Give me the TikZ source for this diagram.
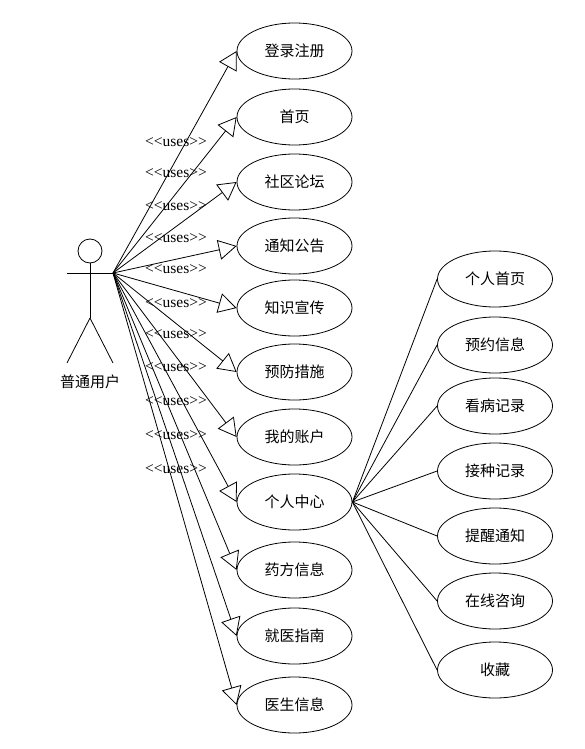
\documentclass[tikz,border=0pt]{standalone}
\usepackage{fontspec}
\setmainfont{Liberation Serif}
\newfontfamily\cjk{Noto Sans CJK SC}
\usetikzlibrary{arrows.meta, shapes.geometric}
\tikzset{
  usecase/.style={
    ellipse,
    draw=black,
    line width=0.8pt,
    minimum width=115pt,
    minimum height=56pt,
    inner sep=0pt,
    font=\cjk\fontsize{15}{18}\selectfont
  },
  actorline/.style={draw=black, line width=0.8pt},
  actorlabel/.style={font=\cjk\fontsize{15}{18}\selectfont},
  stereo/.style={font=\fontsize{15.5}{17}\selectfont, inner sep=0pt},
  uses/.style={-{Triangle[open, length=18pt, width=20pt]}, line width=0.8pt, draw=black},
  link/.style={line width=0.8pt, draw=black}
}
\begin{document}
\begin{tikzpicture}[x=1pt, y=-1pt]
\useasboundingbox (0,0) rectangle (584,749);

% Actor.
\draw[actorline] (90,251) circle[radius=12pt];
\draw[actorline] (90,263) -- (90,318);
\draw[actorline] (67,273) -- (113,273);
\draw[actorline] (90,318) -- (67,363);
\draw[actorline] (90,318) -- (113,363);
\coordinate (user) at (113,273);
\node[actorlabel] (userlabel) at (90,382) {普通用户};

% Use cases of the user.
\foreach \name/\txt/\y in {login/登录注册/51, home/首页/117, forum/社区论坛/182,
    notice/通知公告/246, knowledge/知识宣传/308, prevent/预防措施/372,
    account/我的账户/437, center/个人中心/502, recipe/药方信息/570,
    guide/就医指南/636, doctor/医生信息/705} {
  \node[usecase] (\name) at (294.5,\y) {\txt};
}

% Personal center sub cases.
\foreach \name/\txt/\y in {myhome/个人首页/279, booking/预约信息/345, visits/看病记录/406,
    vaccine/接种记录/471, remind/提醒通知/536, consult/在线咨询/601, favorite/收藏/670} {
  \node[usecase] (\name) at (495,\y) {\txt};
}

% Uses relations.
\foreach \name in {login,home,forum,notice,knowledge,prevent,account,center,recipe,guide,doctor} {
  \draw[uses] (user) -- (\name.west);
}
\foreach \y in {142,173,206,238,269,303,334,367,401,435,469} {
  \node[stereo] at (176,\y) {<{}<uses>{}>};
}

% Links to sub cases.
\foreach \name in {myhome,booking,visits,vaccine,remind,consult,favorite} {
  \draw[link] (center.east) -- (\name.west);
}

\end{tikzpicture}
\end{document}
